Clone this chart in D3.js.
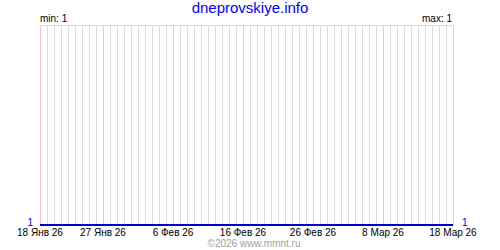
<!DOCTYPE html>
<html>
<head>
<meta charset="utf-8">
<script src="https://cdn.jsdelivr.net/npm/d3@7"></script>
<style>
  body { margin: 0; background: #fff; }
  text { font-family: "Liberation Sans", Arial, sans-serif; }
</style>
</head>
<body>
<svg width="500" height="250"></svg>
<script>
const svg = d3.select('svg')

const parse = d3.timeParse('%Y-%m-%d');

// daily values, 18 Jan .. 18 Mar 2026
const startDate = '2026-01-18';
const endDate = '2026-03-18';
const values = [
  1,1,1,1,1,1,1,1,1,1,
  1,1,1,1,1,1,1,1,1,1,
  1,1,1,1,1,1,1,1,1,1,
  1,1,1,1,1,1,1,1,1,1,
  1,1,1,1,1,1,1,1,1,1,
  1,1,1,1,1,1,1,1,1,1
];
const tickDates = ['2026-01-18', '2026-01-27', '2026-02-06', '2026-02-16', '2026-02-26', '2026-03-08', '2026-03-18'];
const tickLabels = ['18 Янв 26', '27 Янв 26', '6 Фев 26', '16 Фев 26', '26 Фев 26', '8 Мар 26', '18 Мар 26'];

const days = d3.timeDay.range(parse(startDate), d3.timeDay.offset(parse(endDate), 1));
const data = days.map((d, i) => ({ date: d, value: values[i] }));

const plotLeft = 40, plotRight = 453, plotTop = 25, plotBottom = 225;

const x = d3.scaleTime()
  .domain([parse(startDate), parse(endDate)])
  .range([plotLeft, plotRight]);

const minV = d3.min(values), maxV = d3.max(values);
const y = d3.scaleLinear()
  .domain([minV, maxV === minV ? maxV + 1 : maxV])
  .range([plotBottom, plotTop]);

// title
svg.append('text')
  .attr('x', 250).attr('y', 13)
  .attr('text-anchor', 'middle')
  .attr('fill', '#0000ff')
  .attr('font-size', 15)
  .text('dneprovskiye.info')

svg.append('text')
  .attr('x', plotLeft).attr('y', 22)
  .attr('font-size', 10)
  .text('min: ' + minV)

svg.append('text')
  .attr('x', plotRight - 1).attr('y', 22)
  .attr('text-anchor', 'end')
  .attr('font-size', 10)
  .text('max: ' + maxV)

// day grid
const grid = svg.append('g').attr('shape-rendering', 'crispEdges');
const fmt = d3.timeFormat('%Y-%m-%d');
const redSet = new Set(tickDates);
grid.selectAll('line.day')
  .data(days)
  .enter().append('line')
  .attr('x1', d => Math.round(x(d)) + 0.5)
  .attr('x2', d => Math.round(x(d)) + 0.5)
  .attr('y1', plotTop)
  .attr('y2', plotBottom)
  .attr('stroke', d => redSet.has(fmt(d)) ? '#ffc0c0' : '#dcdcdc')

grid.append('line')
  .attr('x1', plotLeft).attr('x2', plotRight + 1)
  .attr('y1', plotTop + 0.5).attr('y2', plotTop + 0.5)
  .attr('stroke', '#dcdcdc')

// series
svg.append('path')
  .datum(data)
  .attr('fill', 'none')
  .attr('stroke', '#0000cc')
  .attr('stroke-width', 2)
  .attr('shape-rendering', 'crispEdges')
  .attr('d', d3.line().x(d => x(d.date)).y(d => y(d.value)))

// x axis labels
svg.append('g')
  .selectAll('text')
  .data(tickDates)
  .enter().append('text')
  .attr('x', d => x(parse(d)))
  .attr('y', 236)
  .attr('text-anchor', 'middle')
  .attr('font-size', 10)
  .text((d, i) => tickLabels[i])

// end values
svg.append('text')
  .attr('x', plotLeft - 7).attr('y', y(values[0]) + 1)
  .attr('text-anchor', 'end')
  .attr('fill', '#0000ff')
  .attr('font-size', 10)
  .text(values[0])

svg.append('text')
  .attr('x', plotRight + 9).attr('y', y(values[values.length - 1]) + 1)
  .attr('fill', '#0000ff')
  .attr('font-size', 10)
  .text(values[values.length - 1])

svg.append('text')
  .attr('x', 254).attr('y', 247)
  .attr('text-anchor', 'middle')
  .attr('fill', '#a0a0a0')
  .attr('font-size', 10)
  .text('©2026 www.mmnt.ru')
</script>
</body>
</html>
